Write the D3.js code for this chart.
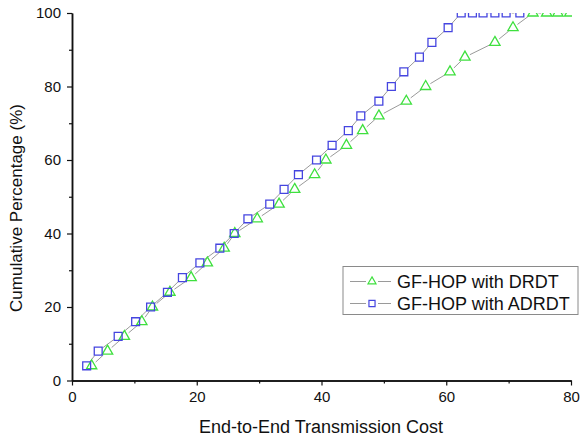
<!DOCTYPE html>
<html>
<head>
<meta charset="utf-8">
<script src="https://cdn.jsdelivr.net/npm/d3@7"></script>
<style>
  body { margin: 0; background: #fff; }
  text { font-family: "Liberation Sans", Arial, sans-serif; fill: #111; }
</style>
</head>
<body>
<div id="chart"></div>
<script>
// data
const drdtCost = [3.15, 5.7, 8.4, 11.2, 12.9, 15.7, 19.1, 21.7, 24.4, 26.1, 29.7, 33.2, 35.7,
  38.9, 40.7, 44.0, 46.6, 49.2, 53.6, 56.7, 60.6, 63.0, 67.8, 70.7, 73.9, 76.1, 77.9, 79.8];
const drdtPct = [4, 8, 12, 16, 20, 24, 28, 32, 36, 40, 44, 48, 52,
  56, 60, 64, 68, 72, 76, 80, 84, 88, 92, 96, 100, 100, 100, 100];
const adrdtCost = [2.35, 4.2, 7.4, 10.2, 12.6, 15.3, 17.7, 20.5, 23.7, 26.0, 28.2, 31.7, 34.0,
  36.3, 39.2, 41.7, 44.3, 46.3, 49.2, 51.2, 53.2, 55.7, 57.7, 60.3, 62.4, 64.2, 65.9, 67.8, 69.6, 71.8];
const adrdtPct = [4, 8, 12, 16, 20, 24, 28, 32, 36, 40, 44, 48, 52,
  56, 60, 64, 68, 72, 76, 80, 84, 88, 92, 96, 100, 100, 100, 100, 100, 100];
const xMajor = [0, 20, 40, 60, 80];
const xMinor = [10, 30, 50, 70];
const yMajor = [0, 20, 40, 60, 80, 100];
const yMinor = [10, 30, 50, 70, 90];
const seriesNames = ["GF-HOP with DRDT", "GF-HOP with ADRDT"];

const width = 580, height = 440;
const green = "#3fe03f", blue = "#4545e0";

const svg = d3.select("#chart").append("svg")
  .attr("width", width).attr("height", height);

const x = d3.scaleLinear().domain([0, 80]).range([72, 571]);
const y = d3.scaleLinear().domain([0, 100]).range([380.5, 13]);

//axes
function drawAxis(axis, tf) {
  const g = svg.append("g").attr("transform", tf).call(axis);
  g.select(".domain").attr("stroke", "#111").attr("stroke-width", 1.5);
  g.selectAll(".tick line").attr("stroke", "#111").attr("stroke-width", 1.2);
  g.selectAll(".tick text").attr("font-size", 15)
    .style("font-family", "'Liberation Sans', Arial, sans-serif").attr("fill", "#111");
  return g;
}
drawAxis(d3.axisBottom(x).tickValues(xMinor).tickSize(3).tickSizeOuter(0).tickFormat(""),
  `translate(0,${y(0)})`);
drawAxis(d3.axisBottom(x).tickValues(xMajor).tickSize(5).tickSizeOuter(0).tickPadding(6),
  `translate(0,${y(0)})`);
drawAxis(d3.axisLeft(y).tickValues(yMinor).tickSize(3).tickSizeOuter(0).tickFormat(""),
  `translate(${x(0)},0)`);
drawAxis(d3.axisLeft(y).tickValues(yMajor).tickSize(5).tickSizeOuter(0).tickPadding(6),
  `translate(${x(0)},0)`);

svg.append("text").attr("x", 321).attr("y", 433)
  .attr("text-anchor", "middle").attr("font-size", 18)
  .text("End-to-End Transmission Cost");
svg.append("text").attr("transform", "translate(22,208) rotate(-90)")
  .attr("text-anchor", "middle").attr("font-size", 17)
  .text("Cumulative Percentage (%)");

// clip to plot area
svg.append("clipPath").attr("id", "clip").append("rect")
  .attr("x", x(0)).attr("y", y(100)).attr("width", x(80) - x(0) + 1).attr("height", y(0) - y(100));
const plot = svg.append("g").attr("clip-path", "url(#clip)");

// line pieces with a gap around each symbol
function gapped(pts, gap) {
  const out = [];
  for (let i = 1; i < pts.length; i++) {
    const [x1, y1] = pts[i - 1], [x2, y2] = pts[i];
    const len = Math.hypot(x2 - x1, y2 - y1);
    if (len <= 2 * gap) continue;
    const ux = (x2 - x1) / len, uy = (y2 - y1) / len;
    out.push([x1 + ux * gap, y1 + uy * gap, x2 - ux * gap, y2 - uy * gap]);
  }
  return out;
}

const series = [
  { cost: drdtCost, pct: drdtPct, color: green, sym: d3.symbolTriangle, size: 46 },
  { cost: adrdtCost, pct: adrdtPct, color: blue, sym: d3.symbolSquare, size: 62 }
];

series.forEach(s => {
  const pts = s.cost.map((c, i) => [x(c), y(s.pct[i])]);
  plot.selectAll(null).data(gapped(pts, 5.5)).enter().append("line")
    .attr("x1", d => d[0]).attr("y1", d => d[1])
    .attr("x2", d => d[2]).attr("y2", d => d[3])
    .attr("stroke", "#9a9a9a").attr("stroke-width", 1);
});
series.forEach(s => {
  const pts = s.cost.map((c, i) => [x(c), y(s.pct[i])]);
  plot.selectAll(null).data(pts).enter().append("path")
    .attr("transform", d => `translate(${d[0]},${d[1]})`)
    .attr("d", d3.symbol(s.sym, s.size))
    .attr("fill", "none").attr("stroke", s.color).attr("stroke-width", 1.3);
});

// legend
const lg = svg.append("g");
lg.append("rect").attr("x", 343).attr("y", 266.5).attr("width", 235).attr("height", 48)
  .attr("fill", "#fff").attr("stroke", "#8a8a8a").attr("stroke-width", 1);
series.forEach((s, i) => {
  const cy = 281.5 + i * 22;
  lg.append("line").attr("x1", 350).attr("x2", 366).attr("y1", cy).attr("y2", cy)
    .attr("stroke", "#9a9a9a");
  lg.append("line").attr("x1", 378).attr("x2", 391).attr("y1", cy).attr("y2", cy)
    .attr("stroke", "#9a9a9a");
  lg.append("path").attr("transform", `translate(372,${cy})`)
    .attr("d", d3.symbol(s.sym, s.size * 0.6))
    .attr("fill", "none").attr("stroke", s.color).attr("stroke-width", 1.2);
  lg.append("text").attr("x", 397).attr("y", cy + 6.5).attr("font-size", 18)
    .text(seriesNames[i]);
});
</script>
</body>
</html>
